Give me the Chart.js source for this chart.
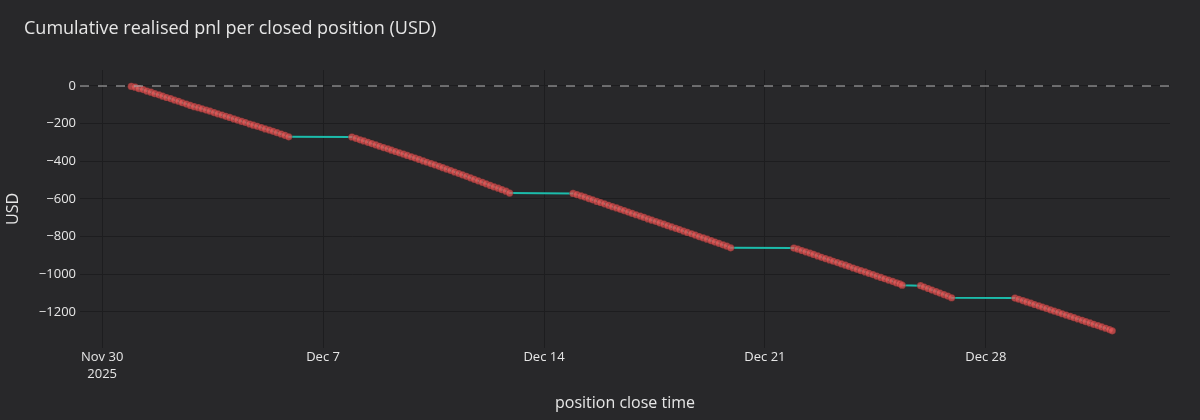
<!DOCTYPE html>
<html>
<head>
<meta charset="utf-8">
<title>Cumulative realised pnl</title>
<script src="https://cdn.jsdelivr.net/npm/chart.js@4.4.1/dist/chart.umd.min.js"></script>
<style>
  html, body { margin: 0; padding: 0; background: #28282a; }
  #wrap { width: 1200px; height: 420px; }
</style>
</head>
<body>
<div id="wrap"><canvas id="pnl" width="1200" height="420"></canvas></div>
<script>
// close time of each position (UTC) and cumulative realised pnl after it
const closeTimes = [
  '2025-11-30T22:10', '2025-12-01T01:05', '2025-12-01T04:00', '2025-12-01T07:10', '2025-12-01T10:00',
  '2025-12-01T13:05', '2025-12-01T16:00', '2025-12-01T19:10', '2025-12-01T22:00', '2025-12-02T01:00',
  '2025-12-02T04:05', '2025-12-02T07:00', '2025-12-02T10:10', '2025-12-02T13:00', '2025-12-02T16:05',
  '2025-12-02T19:00', '2025-12-02T22:00', '2025-12-03T01:10', '2025-12-03T04:00', '2025-12-03T07:05',
  '2025-12-03T10:00', '2025-12-03T13:10', '2025-12-03T16:00', '2025-12-03T19:05', '2025-12-03T22:00',
  '2025-12-04T01:00', '2025-12-04T04:10', '2025-12-04T07:00', '2025-12-04T10:05', '2025-12-04T13:00',
  '2025-12-04T16:10', '2025-12-04T19:00', '2025-12-04T22:00', '2025-12-05T01:05', '2025-12-05T04:00',
  '2025-12-05T07:10', '2025-12-05T10:00', '2025-12-05T13:00', '2025-12-05T16:05', '2025-12-05T19:00',
  '2025-12-05T21:50',
  '2025-12-07T21:55', '2025-12-08T01:00', '2025-12-08T04:05', '2025-12-08T07:00', '2025-12-08T10:10',
  '2025-12-08T13:00', '2025-12-08T16:05', '2025-12-08T19:00', '2025-12-08T22:00', '2025-12-09T01:10',
  '2025-12-09T04:00', '2025-12-09T07:05', '2025-12-09T10:00', '2025-12-09T13:10', '2025-12-09T16:00',
  '2025-12-09T19:05', '2025-12-09T22:00', '2025-12-10T01:00', '2025-12-10T04:10', '2025-12-10T07:00',
  '2025-12-10T10:05', '2025-12-10T13:00', '2025-12-10T16:10', '2025-12-10T19:00', '2025-12-10T22:00',
  '2025-12-11T01:05', '2025-12-11T04:00', '2025-12-11T07:10', '2025-12-11T10:00', '2025-12-11T13:00',
  '2025-12-11T16:05', '2025-12-11T19:00', '2025-12-11T22:00', '2025-12-12T01:10', '2025-12-12T04:00',
  '2025-12-12T07:05', '2025-12-12T10:00', '2025-12-12T13:10', '2025-12-12T16:00', '2025-12-12T19:05',
  '2025-12-12T21:50',
  '2025-12-14T22:05', '2025-12-15T01:00', '2025-12-15T04:10', '2025-12-15T07:00', '2025-12-15T10:05',
  '2025-12-15T13:00', '2025-12-15T16:10', '2025-12-15T19:00', '2025-12-15T22:00', '2025-12-16T01:05',
  '2025-12-16T04:00', '2025-12-16T07:10', '2025-12-16T10:00', '2025-12-16T13:00', '2025-12-16T16:05',
  '2025-12-16T19:00', '2025-12-16T22:00', '2025-12-17T01:10', '2025-12-17T04:00', '2025-12-17T07:05',
  '2025-12-17T10:00', '2025-12-17T13:10', '2025-12-17T16:00', '2025-12-17T19:05', '2025-12-17T22:00',
  '2025-12-18T01:00', '2025-12-18T04:10', '2025-12-18T07:00', '2025-12-18T10:05', '2025-12-18T13:00',
  '2025-12-18T16:10', '2025-12-18T19:00', '2025-12-18T22:00', '2025-12-19T01:05', '2025-12-19T04:00',
  '2025-12-19T07:10', '2025-12-19T10:00', '2025-12-19T13:00', '2025-12-19T16:05', '2025-12-19T19:00',
  '2025-12-19T21:55',
  '2025-12-21T22:00', '2025-12-22T01:00', '2025-12-22T04:05', '2025-12-22T07:00', '2025-12-22T10:10',
  '2025-12-22T13:00', '2025-12-22T16:05', '2025-12-22T19:00', '2025-12-22T22:00', '2025-12-23T01:10',
  '2025-12-23T04:00', '2025-12-23T07:05', '2025-12-23T10:00', '2025-12-23T13:10', '2025-12-23T16:00',
  '2025-12-23T19:05', '2025-12-23T22:00', '2025-12-24T01:00', '2025-12-24T04:10', '2025-12-24T07:00',
  '2025-12-24T10:05', '2025-12-24T13:00', '2025-12-24T16:10', '2025-12-24T19:00', '2025-12-24T22:00',
  '2025-12-25T01:05', '2025-12-25T04:00', '2025-12-25T06:30', '2025-12-25T08:20',
  '2025-12-25T22:20', '2025-12-26T01:00', '2025-12-26T04:05', '2025-12-26T07:00', '2025-12-26T10:10',
  '2025-12-26T13:00', '2025-12-26T16:05', '2025-12-26T19:00', '2025-12-26T21:55',
  '2025-12-28T22:05', '2025-12-29T01:00', '2025-12-29T04:10', '2025-12-29T07:00', '2025-12-29T10:05',
  '2025-12-29T13:00', '2025-12-29T16:10', '2025-12-29T19:00', '2025-12-29T22:00', '2025-12-30T01:05',
  '2025-12-30T04:00', '2025-12-30T07:10', '2025-12-30T10:00', '2025-12-30T13:00', '2025-12-30T16:05',
  '2025-12-30T19:00', '2025-12-30T22:00', '2025-12-31T01:10', '2025-12-31T04:00', '2025-12-31T07:05',
  '2025-12-31T10:00', '2025-12-31T13:10', '2025-12-31T16:00', '2025-12-31T19:05', '2025-12-31T22:00',
  '2026-01-01T00:05'
]

const cumPnl = [
  -2, -6, -14, -19, -27, -33, -41, -47, -54, -61,
  -67, -75, -81, -89, -96, -103, -110, -115, -121, -128,
  -134, -141, -148, -154, -161, -167, -175, -181, -188, -194,
  -202, -208, -214, -221, -228, -234, -241, -248, -255, -262,
  -270,
  -271, -278, -286, -292, -299, -306, -313, -320, -327, -334,
  -341, -348, -355, -362, -369, -376, -383, -390, -398, -405,
  -412, -419, -427, -434, -442, -449, -457, -465, -472, -480,
  -488, -496, -504, -512, -520, -528, -536, -543, -551, -559,
  -569,
  -571, -577, -584, -590, -598, -605, -613, -619, -626, -634,
  -641, -648, -655, -662, -670, -677, -684, -691, -698, -706,
  -713, -720, -727, -734, -742, -749, -756, -763, -771, -778,
  -785, -792, -800, -807, -814, -822, -829, -836, -844, -851,
  -860,
  -861, -867, -874, -881, -888, -895, -903, -910, -917, -924,
  -931, -938, -945, -952, -959, -967, -974, -981, -988, -995,
  -1002, -1010, -1017, -1024, -1031, -1038, -1046, -1051, -1058,
  -1061, -1068, -1076, -1084, -1092, -1100, -1108, -1116, -1125,
  -1127, -1133, -1140, -1147, -1154, -1161, -1168, -1175, -1182, -1189,
  -1196, -1203, -1210, -1217, -1224, -1231, -1238, -1245, -1252, -1259,
  -1266, -1273, -1280, -1287, -1294, -1301
]

const xTickDates = ['2025-11-30', '2025-12-07', '2025-12-14', '2025-12-21', '2025-12-28']
const xTickLabels = [['Nov 30', '2025'], 'Dec 7', 'Dec 14', 'Dec 21', 'Dec 28']
const yTickValues = [0, -200, -400, -600, -800, -1000, -1200]

const xRange = ['2025-11-29T07:10', '2026-01-02T20:00']
const yRange = [-1392, 85]

const toMs = s => Date.parse(s.length === 10 ? s + 'T00:00Z' : s + 'Z')

const points = closeTimes.map((t, i) => ({ x: toMs(t), y: cumPnl[i] }))
const xTicks = xTickDates.map(toMs)

const bg = '#28282a'
const gridColor = '#1d1d1f'
const textColor = '#e6e6e6'
const font = '"Open Sans", "Noto Sans", sans-serif'

// background, zero line and the title
const decor = {
  id: 'decor',
  beforeDraw(chart) {
    const ctx = chart.ctx
    ctx.save()
    ctx.fillStyle = bg
    ctx.fillRect(0, 0, chart.width, chart.height)
    ctx.restore()
  },
  afterDatasetsDraw(chart) {
    const { ctx, chartArea } = chart
    const y0 = chart.scales.y.getPixelForValue(0)
    ctx.save()
    ctx.strokeStyle = 'rgba(170, 170, 172, 0.85)'
    ctx.lineWidth = 1.3
    ctx.setLineDash([9, 9])
    ctx.beginPath()
    ctx.moveTo(chartArea.left, y0)
    ctx.lineTo(chartArea.right, y0)
    ctx.stroke()
    ctx.restore()
  },
  afterDraw(chart) {
    const ctx = chart.ctx
    ctx.save()
    ctx.fillStyle = textColor
    ctx.font = '18px ' + font
    ctx.textBaseline = 'middle'
    ctx.textAlign = 'left'
    ctx.fillText('Cumulative realised pnl per closed position (USD)', 24, 29)
    ctx.restore()
  }
}

new Chart(document.getElementById('pnl'), {
  type: 'line',
  data: {
    datasets: [
      {
        label: 'cumulative pnl',
        data: points,
        borderColor: '#1cbcab',
        borderWidth: 2,
        tension: 0,
        pointRadius: 3.6,
        pointBorderWidth: 0.8,
        pointBackgroundColor: 'rgba(228, 82, 82, 0.72)',
        pointBorderColor: 'rgba(70, 34, 34, 0.35)',
      },
    ],
  },
  options: {
    responsive: false,
    animation: false,
    devicePixelRatio: 1,
    layout: { padding: { top: 70, right: 30, bottom: 0, left: 0 } },
    plugins: {
      legend: { display: false },
      tooltip: { enabled: false },
    },
    scales: {
      x: {
        type: 'linear',
        min: toMs(xRange[0]),
        max: toMs(xRange[1]),
        afterBuildTicks: s => { s.ticks = xTicks.map(v => ({ value: v })) },
        afterFit: s => { s.height = 72 },
        ticks: {
          color: textColor,
          padding: 1,
          font: { family: font, size: 13, lineHeight: 1.3 },
          maxRotation: 0,
          autoSkip: false,
          callback: (v, i) => xTickLabels[i],
        },
        grid: { color: gridColor, lineWidth: 1, drawTicks: false },
        border: { display: false },
        title: {
          display: true,
          text: 'position close time',
          color: textColor,
          font: { family: font, size: 16 },
          padding: { top: 4, bottom: 7 },
        },
      },
      y: {
        min: yRange[0],
        max: yRange[1],
        afterBuildTicks: s => { s.ticks = yTickValues.map(v => ({ value: v })) },
        afterFit: s => { s.width = 80 },
        ticks: {
          color: textColor,
          padding: 4,
          font: { family: font, size: 13 },
          callback: v => String(v).replace('-', '\u2212'),
        },
        grid: { color: gridColor, lineWidth: 1, drawTicks: false },
        border: { display: false },
        title: {
          display: true,
          text: 'USD',
          color: textColor,
          font: { family: font, size: 16 },
          padding: { top: 4, bottom: 0 },
        },
      },
    },
  },
  plugins: [decor],
})
</script>
</body>
</html>
